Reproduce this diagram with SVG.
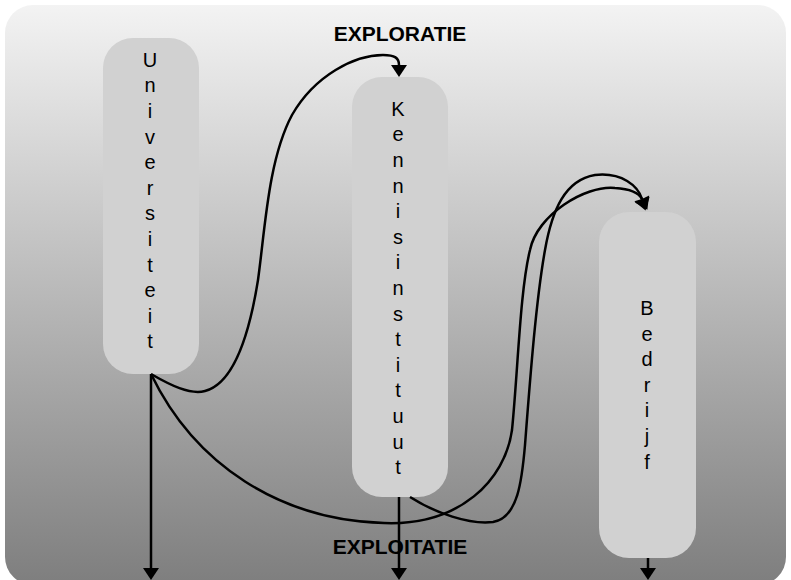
<svg xmlns="http://www.w3.org/2000/svg" width="791" height="580" viewBox="0 0 791 580">
<defs>
<linearGradient id="bg" x1="0" y1="0" x2="0" y2="1">
<stop offset="0" stop-color="#f3f3f3"/>
<stop offset="1" stop-color="#7e7e7e"/>
</linearGradient>
<marker id="ah" markerUnits="userSpaceOnUse" markerWidth="14" markerHeight="18" refX="0" refY="8" orient="auto" overflow="visible">
<path d="M0,0 L12,8 L0,16 z" fill="#000"/>
</marker>
</defs>
<style>
.node{fill:#d1d1d1;}
.lbl{font-family:"Liberation Sans",Arial,sans-serif;font-size:20px;fill:#000;text-anchor:middle;}
.title{font-family:"Liberation Sans",Arial,sans-serif;font-size:21px;font-weight:bold;fill:#000;text-anchor:middle;}
.conn path,.conn line{fill:none;stroke:#000;stroke-width:2.5;marker-end:url(#ah);}
</style>
<rect x="5" y="5" width="781" height="580" rx="28" fill="url(#bg)"/>
<g id="universiteit">
<rect class="node" x="103" y="38" width="96" height="336" rx="30"/>
<text class="lbl"><tspan x="150" y="66.7">U</tspan><tspan x="150" y="92.3">n</tspan><tspan x="150" y="117.9">i</tspan><tspan x="150" y="143.5">v</tspan><tspan x="150" y="169.1">e</tspan><tspan x="150" y="194.7">r</tspan><tspan x="150" y="220.3">s</tspan><tspan x="150" y="245.9">i</tspan><tspan x="150" y="271.5">t</tspan><tspan x="150" y="297.1">e</tspan><tspan x="150" y="322.7">i</tspan><tspan x="150" y="348.3">t</tspan></text>
</g>
<g id="kennisinstituut">
<rect class="node" x="352" y="77" width="96" height="420" rx="30"/>
<text class="lbl"><tspan x="398" y="115.7">K</tspan><tspan x="398" y="141.3">e</tspan><tspan x="398" y="166.9">n</tspan><tspan x="398" y="192.5">n</tspan><tspan x="398" y="218.1">i</tspan><tspan x="398" y="243.7">s</tspan><tspan x="398" y="269.3">i</tspan><tspan x="398" y="294.9">n</tspan><tspan x="398" y="320.5">s</tspan><tspan x="398" y="346.1">t</tspan><tspan x="398" y="371.7">i</tspan><tspan x="398" y="397.3">t</tspan><tspan x="398" y="422.9">u</tspan><tspan x="398" y="448.5">u</tspan><tspan x="398" y="474.1">t</tspan></text>
</g>
<g id="bedrijf">
<rect class="node" x="599" y="212" width="97" height="346" rx="30"/>
<text class="lbl"><tspan x="647" y="315">B</tspan><tspan x="647" y="340.6">e</tspan><tspan x="647" y="366.2">d</tspan><tspan x="647" y="391.8">r</tspan><tspan x="647" y="417.4">i</tspan><tspan x="647" y="443">j</tspan><tspan x="647" y="468.6">f</tspan></text>
</g>
<g id="connectors" class="conn">
<path d="M151,374 C170,385 190,395 205,391 C235,383 250,330 258,280 C265,230 268,160 292,115 C315,75 355,55 383,55 C395,55 399,58 399,65"/>
<path d="M151,374 C195,465 280,520 384,523 C460,526 505,480 512,430 C518,370 520,290 530,250 C537,215 585,185 615,188 C630,189 639,193 642,199"/>
<path d="M410,497 C435,513 470,525 493,522 C518,518 522,480 525,445 C530,380 536,300 545,250 C552,210 565,180 595,175 C622,172 638,186 642,199"/>
<line x1="151" y1="374" x2="151" y2="568"/>
<line x1="399" y1="497" x2="399" y2="568"/>
<line x1="648" y1="558" x2="648" y2="568"/>
</g>
<text class="title" x="400" y="41">EXPLORATIE</text>
<text class="title" x="400" y="554">EXPLOITATIE</text>
</svg>
